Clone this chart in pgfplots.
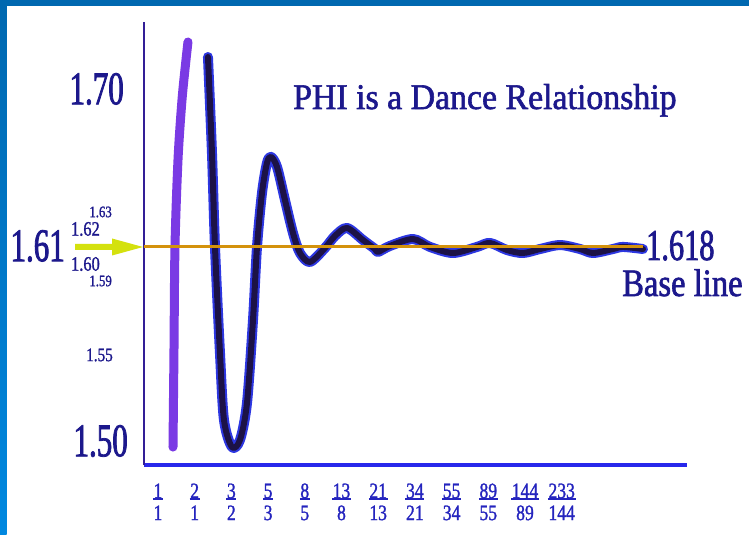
\documentclass[border=0pt]{standalone}
\usepackage{pgfplots}
\usepackage{pgfplotstable}
\pgfplotsset{compat=1.18}
\usepackage{fontspec}
\setmainfont{Liberation Serif}
\newfontfamily\fBig[FakeStretch=0.66,FakeBold=1.6]{Liberation Serif}
\newfontfamily\fSmall[FakeStretch=0.80,FakeBold=1.2]{Liberation Serif}
\newfontfamily\fTitle[FakeStretch=0.94,FakeBold=1.6]{Liberation Serif}
\newfontfamily\fPhi[FakeStretch=0.69,FakeBold=1.6]{Liberation Serif}
\newfontfamily\fBase[FakeStretch=0.84,FakeBold=1.6]{Liberation Serif}
\newfontfamily\fTick[FakeStretch=0.80,FakeBold=1.2]{Liberation Serif}

\definecolor{navy}{RGB}{28,24,140}
\definecolor{tickblue}{RGB}{36,36,190}
\definecolor{framedark}{RGB}{0,104,176}
\definecolor{framelight}{RGB}{0,136,224}
\definecolor{arrowc}{RGB}{212,225,14}
\definecolor{orangec}{RGB}{212,146,12}
\definecolor{violetc}{RGB}{122,58,228}
\definecolor{edgeblue}{RGB}{45,55,225}
\definecolor{darkc}{RGB}{28,18,70}
\definecolor{xaxisc}{RGB}{40,40,235}
\definecolor{yaxisc}{RGB}{50,30,150}

\newcommand\ul[1]{\setbox0\hbox{#1}\rlap{\hspace*{-0.6pt}\rule[-2pt]{\dimexpr\wd0+1.2pt\relax}{1.8pt}}\box0}
\newcommand\fr[2]{\begin{tabular}{@{}c@{}}\ul{#1}\\#2\end{tabular}}

% first stroke (ratio 2/1 rising from 1/1)
\pgfplotstableread{
x y
0.409 1.4959
0.436 1.5522
0.463 1.6119
0.545 1.6623
0.654 1.6971
0.763 1.7203
0.817 1.7307
}\strokeA
% damped oscillation around the base line
\pgfplotstableread{
x y
1.362 1.7220
1.471 1.6664
1.553 1.6119
1.689 1.5504
1.798 1.5116
2.016 1.4959
2.234 1.5000
2.425 1.5214
2.589 1.5696
2.698 1.6119
2.834 1.6432
2.970 1.6606
3.079 1.6641
3.243 1.6583
3.460 1.6391
3.678 1.6200
3.869 1.6084
4.142 1.6032
4.550 1.6113
4.823 1.6183
5.150 1.6229
5.586 1.6159
5.913 1.6107
5.995 1.6090
6.322 1.6125
6.948 1.6165
7.411 1.6119
8.038 1.6084
8.692 1.6119
9.046 1.6142
9.510 1.6101
9.946 1.6084
10.409 1.6107
10.954 1.6130
11.499 1.6107
11.853 1.6084
12.398 1.6107
12.670 1.6119
13.215 1.6107
}\strokeB

\begin{document}
\begin{tikzpicture}
\useasboundingbox (0pt,0pt) rectangle (749pt,535pt);
\fill[white] (0pt,0pt) rectangle (749pt,535pt);
\shade[top color=framedark, bottom color=framelight] (0pt,0pt) rectangle (6.5pt,535pt);
\fill[framedark] (0pt,529pt) rectangle (749pt,535pt);

\begin{axis}[
  at={(144pt,70pt)}, anchor=south west,
  scale only axis, width=543pt, height=443pt,
  xmin=-0.381, xmax=14.414, ymin=1.4855, ymax=1.7423,
  axis lines=left,
  x axis line style={-, draw=xaxisc, line width=4pt},
  y axis line style={-, draw=yaxisc, line width=2.5pt},
  xtick={0,1,2,3,4,5,6,7,8,9,10,11},
  xticklabels={\fr{1}{1},\fr{2}{1},\fr{3}{2},\fr{5}{3},\fr{8}{5},\fr{13}{8},\fr{21}{13},\fr{34}{21},\fr{55}{34},\fr{89}{55},\fr{144}{89},\fr{233}{144}},
  xticklabel style={font=\fTick\fontsize{22}{22}\selectfont, text=tickblue, inner sep=0pt, anchor=north, yshift=-17.5pt},
  major tick length=0pt,
  ytick=\empty,
  clip=false,
]
\addplot[violetc, line width=9pt, smooth, line cap=round] table {\strokeA};
\addplot[edgeblue, line width=10pt, smooth, line cap=round, line join=round] table {\strokeB};
\addplot[darkc, line width=6pt, smooth, line cap=round, line join=round] table {\strokeB};
\addplot[orangec, line width=3pt] coordinates {(-0.381,1.612) (13.215,1.612)};
\end{axis}

% arrow pointing at 1.61
\fill[arrowc] (75pt,285pt) -- (112pt,285pt) -- (112pt,279.5pt) -- (143pt,288pt) -- (112pt,296.5pt) -- (112pt,291pt) -- (75pt,291pt) -- cycle;

% y labels
\begin{scope}[every node/.style={inner sep=0pt, anchor=east, text=navy}]
\node at (124pt,446pt) {\fBig\fontsize{47}{47}\selectfont 1.70};
\node at (112pt,323pt) {\fSmall\fontsize{16}{16}\selectfont 1.63};
\node at (100pt,306pt) {\fSmall\fontsize{20.5}{20.5}\selectfont 1.62};
\node at (65pt,289pt) {\fBig\fontsize{47}{47}\selectfont 1.61};
\node at (100pt,271pt) {\fSmall\fontsize{20.5}{20.5}\selectfont 1.60};
\node at (112pt,254pt) {\fSmall\fontsize{16}{16}\selectfont 1.59};
\node at (113pt,180pt) {\fSmall\fontsize{19}{19}\selectfont 1.55};
\node at (128pt,94pt) {\fBig\fontsize{47}{47}\selectfont 1.50};
\end{scope}

\node[inner sep=0pt, anchor=base west, text=navy] at (293pt,426pt) {\fTitle\fontsize{36}{36}\selectfont PHI is a Dance Relationship};
\node[inner sep=0pt, anchor=base west, text=navy] at (646pt,275pt) {\fPhi\fontsize{44}{44}\selectfont 1.618};
\node[inner sep=0pt, anchor=base west, text=navy] at (622pt,239pt) {\fBase\fontsize{38.8}{38.8}\selectfont Base line};
\end{tikzpicture}
\end{document}
